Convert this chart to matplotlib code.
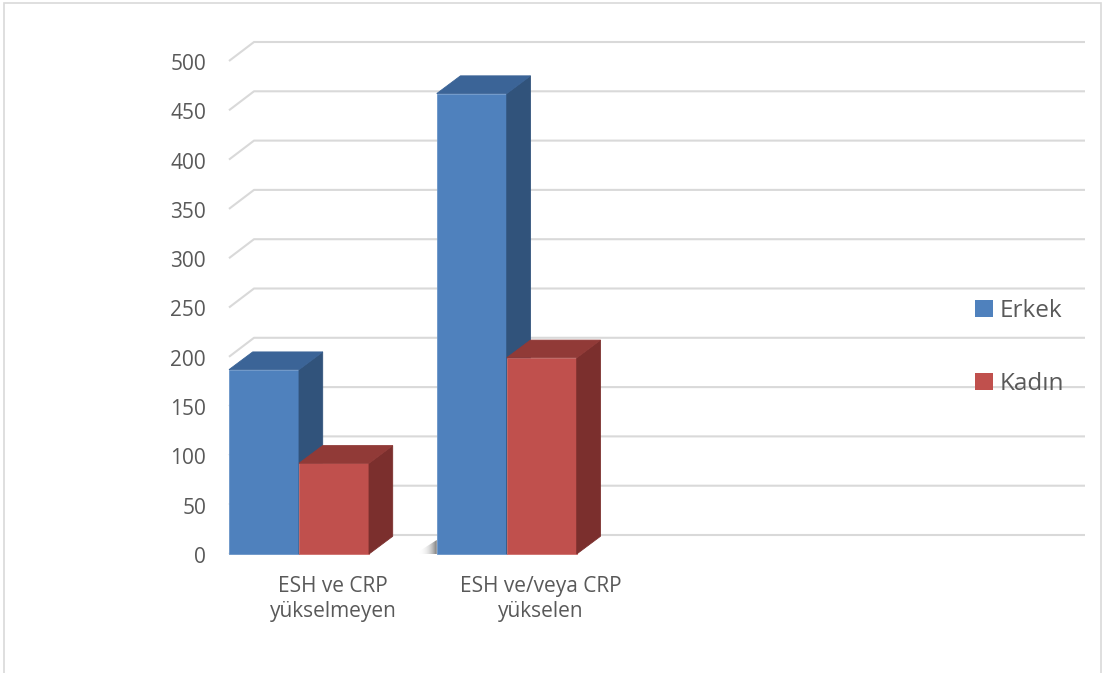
import numpy as np
import matplotlib
matplotlib.use('Agg')
import matplotlib.pyplot as plt
from matplotlib.patches import Polygon, Rectangle, Patch

plt.rcParams['font.family'] = ['Open Sans', 'DejaVu Sans']

# data
categories = ['ESH ve CRP\nyükselmeyen', 'ESH ve/veya CRP\nyükselen']
n_slots = 4  # the floor has room for 4 categories, only 2 are used
series_names = ['Erkek', 'Kadın']
erkek = [187, 467]
kadin = [92, 199]
yticks = list(range(0, 501, 50))

# colours: front, top, side
colors = {
    'Erkek': ('#4f81bd', '#3b6497', '#31537b'),
    'Kadın': ('#c0504d', '#913a37', '#7b2f2d'),
}
TEXT = '#595959'
GRID = '#d9d9d9'

W, H = 1105, 673
fig = plt.figure(figsize=(W / 100, H / 100), dpi=100)
# front floor edge: x 229..1060 px, value 0 at y=554, 500 at y=61
ax = fig.add_axes([229 / W, (H - 554) / H, 831 / W, 493 / H])
ax.set_xlim(0, n_slots)
ax.set_ylim(0, 500)
ax.axis('off')

px_x = 831 / n_slots   # px per category
px_y = 493 / 500       # px per value unit

# oblique depth offsets
gdx, gdy = 25 / px_x, 19 / px_y      # walls / gridlines
bdx, bdy = 23.7 / px_x, 17.7 / px_y  # bars

# gridlines on the side wall + back wall
for v in yticks:
    ax.plot([0, gdx, n_slots + gdx], [v, v + gdy, v + gdy], color=GRID,
            lw=1.5, solid_capstyle='butt', clip_on=False, zorder=1)
    ax.text(-23 / px_x, v - 3.5 / px_y, str(v), ha='right', va='center',
            fontsize=15, color=TEXT)

bar_w = 70 / px_x


def bar3d(x0, h, name):
    front, top, side = colors[name]
    edge = dict(lw=0.6, clip_on=False, zorder=3, joinstyle='miter')
    ax.add_patch(Polygon([(x0, 0), (x0 + bar_w, 0), (x0 + bar_w, h), (x0, h)],
                         facecolor=front, edgecolor='#6a95c8' if name == 'Erkek' else '#cf6e6b', **edge))
    ax.add_patch(Polygon([(x0 + bar_w, 0), (x0 + bar_w + bdx, bdy),
                          (x0 + bar_w + bdx, h + bdy), (x0 + bar_w, h)],
                         facecolor=side, edgecolor=side, **edge))
    ax.add_patch(Polygon([(x0, h), (x0 + bar_w, h), (x0 + bar_w + bdx, h + bdy),
                          (x0 + bdx, h + bdy)],
                         facecolor=top, edgecolor=top, **edge))


for i in range(len(categories)):
    bar3d(i, erkek[i], 'Erkek')
    bar3d(i + bar_w, kadin[i], 'Kadın')

# small soft shadow at the foot of the second group
grad = np.linspace(0, 1, 64)[None, :] ** 3
shadow_ext = [1 - 22 / px_x, 1, 0, 14 / px_y]
im = ax.imshow(np.dstack([np.full((1, 64, 3), 0.3), grad[..., None] * 0.75]),
               extent=shadow_ext, aspect='auto', zorder=2, interpolation='bilinear')
im.set_clip_path(Polygon([(1, 0), (1, 14 / px_y), (1 - 22 / px_x, 0)],
                         transform=ax.transData))
ax.set_xlim(0, n_slots)
ax.set_ylim(0, 500)

for i, lab in enumerate(categories):
    ax.text(i + 0.5, -22, lab, ha='center', va='top', fontsize=15,
            color=TEXT, linespacing=1.25)

handles = [Patch(facecolor=colors[s][0], edgecolor='none') for s in series_names]
fig.legend(handles, series_names, loc='upper left',
           bbox_to_anchor=(963 / W, 1 - 287 / H), frameon=False,
           fontsize=17.5, labelcolor=TEXT, handlelength=0.72, handleheight=0.72,
           handletextpad=0.3, labelspacing=2.0, borderpad=0)

# outer frame of the chart area
fig.add_artist(Rectangle((4 / W, -0.05), 1097 / W, 1.05 - 3 / H,
                         transform=fig.transFigure, fill=False,
                         edgecolor=GRID, lw=1.2))

fig.savefig('out.png', dpi=100)
